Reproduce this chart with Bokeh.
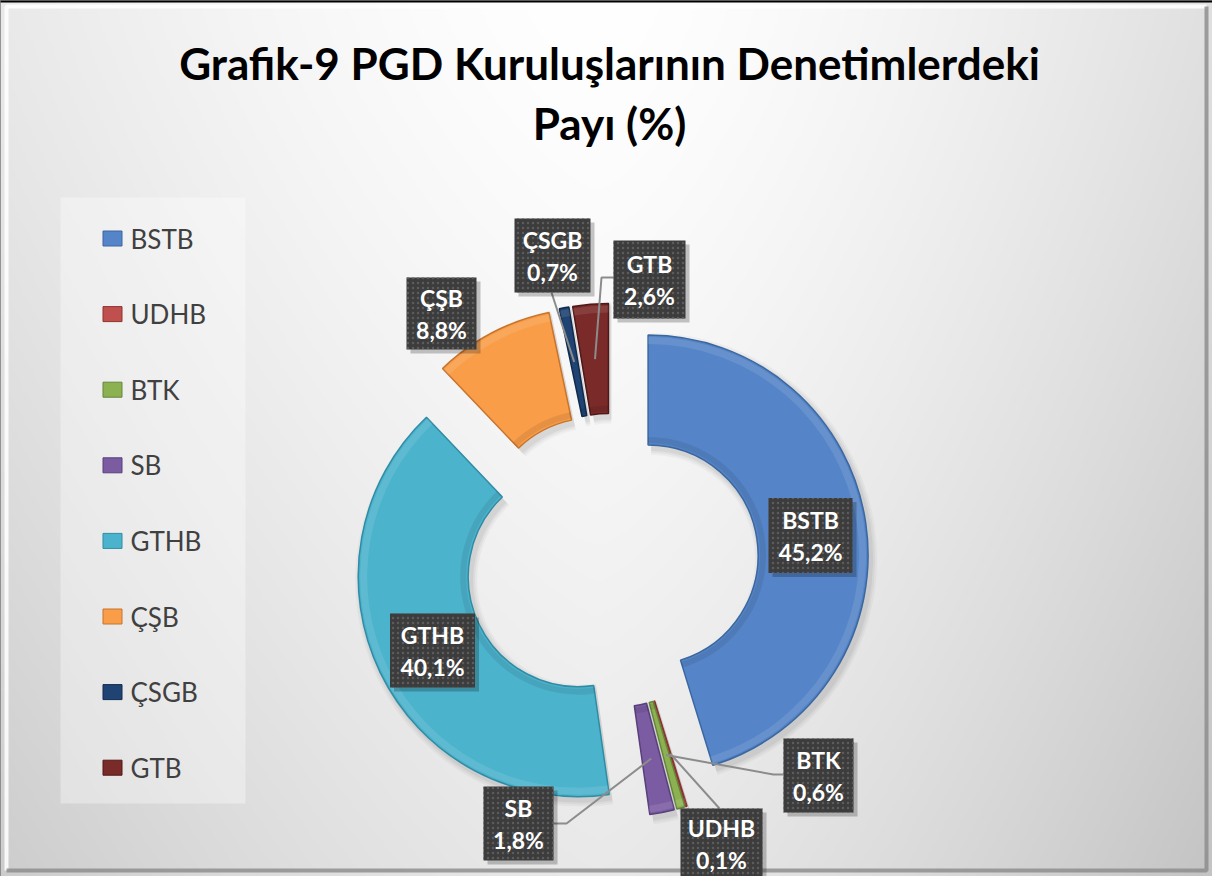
import numpy as np
from bokeh.plotting import figure
from bokeh.models import Range1d, ColumnDataSource
from bokeh.embed import file_html
from bokeh.resources import INLINE
from bokeh.core.properties import value

# ---------------- data ----------------
title_lines = ["Grafik-9 PGD Kuruluşlarının Denetimlerdeki", "Payı (%)"]
categories = ["BSTB", "UDHB", "BTK", "SB", "GTHB", "ÇŞB", "ÇSGB", "GTB"]
shares = [45.2, 0.1, 0.6, 1.8, 40.1, 8.8, 0.7, 2.6]

# ---------------- style ----------------
colors = ["#5585C8", "#C0504D", "#8CB150", "#7B5CA3", "#4CB3CC", "#F99D48", "#1F4373", "#7A2A28"]
edge_colors = ["#3B679F", "#8E3331", "#66853A", "#58407A", "#2F8CA5", "#C8742C", "#122B4D", "#4E1918"]
FONT = "Lato"

W, H = 1212, 876


def Y(yi):
    """screen y (down) -> data y (up)"""
    return H - np.asarray(yi, dtype=float)


# donut layout (screen pixels)
CX, CY = 611.0, float(Y(560))
R_OUT, R_IN, EXPLODE = 220.0, 110.0, 37.0

# label boxes: centre (x, y-down), width, height, leader points from box to elbow
label_layout = {
    "BSTB": ((810, 535), 84, 75, None),
    "UDHB": ((721, 843), 82, 70, [(719, 808)]),
    "BTK":  ((818, 775), 70, 74, [(783, 774), (773, 774)]),
    "SB":   ((518, 823), 70, 74, [(553, 823), (566, 823)]),
    "GTHB": ((432, 650), 85, 74, None),
    "ÇŞB":  ((441, 313), 70, 72, None),
    "ÇSGB": ((552, 255), 76, 74, [(551, 292)]),
    "GTB":  ((649, 279), 72, 78, [(613, 277), (601, 277)]),
}

p = figure(width=W, height=H, x_range=Range1d(0, W), y_range=Range1d(0, H),
           output_backend="svg", toolbar_location=None, min_border=0)
p.axis.visible = False
p.grid.visible = False
p.outline_line_color = "#7A7A7A"
p.outline_line_width = 3
p.background_fill_color = "#EEEEEE"
p.border_fill_color = "#EEEEEE"

# ---------------- background gradient ----------------
step = 2
nx, ny = W // step + 1, H // step + 1
xs = (np.arange(nx) + 0.5) * step
ys_data = (np.arange(ny) + 0.5) * step
gx, gy = np.meshgrid(xs, ys_data)
yi = H - gy
dxn = (gx - 600) / 600.0
side = np.where(dxn < 0, 22.0, 30.0)
v = 255 - side * np.abs(dxn) ** 1.5 - 22.0 * (yi / 870.0) ** 1.3 - 6.0 * np.abs(dxn) * (yi / 870.0)
v = np.clip(v, 0, 255).astype(np.uint8)
img = np.empty((ny, nx), dtype=np.uint32)
view = img.view(dtype=np.uint8).reshape((ny, nx, 4))
view[..., 0] = v
view[..., 1] = v
view[..., 2] = v
view[..., 3] = 255
p.image_rgba(image=[img], x=0, y=0, dw=W, dh=H)

# frame bevel
p.line(x=[6, 6, W - 6], y=[6, H - 6, H - 6], line_color="white", line_width=4, line_alpha=0.85)
p.line(x=[6, W - 6, W - 6], y=[6, 6, H - 6], line_color="#8A8A8A", line_width=4, line_alpha=0.8)

# ---------------- donut ----------------
vals = np.array(shares, dtype=float)
total = vals.sum()
cum = np.cumsum(vals)
t0 = (cum - vals) / total * 2 * np.pi
t1 = cum / total * 2 * np.pi
mid = (t0 + t1) / 2
cxs = CX + EXPLODE * np.sin(mid)
cys = CY + EXPLODE * np.cos(mid)
start = np.pi / 2 - t1
end = np.pi / 2 - t0

src = ColumnDataSource(dict(x=cxs, y=cys, start=start, end=end, color=colors, edge=edge_colors,
                            cat=categories))

# soft shadow
for k, a in [(6, 0.03), (4, 0.04), (2, 0.05)]:
    p.annular_wedge(x=cxs + 3, y=cys - 4, inner_radius=R_IN - k, outer_radius=R_OUT + k,
                    start_angle=start, end_angle=end, fill_color="black", fill_alpha=a, line_color=None)

p.annular_wedge(x="x", y="y", inner_radius=R_IN, outer_radius=R_OUT, start_angle="start", end_angle="end",
                fill_color="color", line_color="edge", line_width=1.5, source=src)
# bevel shading
p.annular_wedge(x="x", y="y", inner_radius=R_OUT - 9, outer_radius=R_OUT - 2, start_angle="start",
                end_angle="end", fill_color="white", fill_alpha=0.10, line_color=None, source=src)
p.annular_wedge(x="x", y="y", inner_radius=R_IN + 2, outer_radius=R_IN + 8, start_angle="start",
                end_angle="end", fill_color="black", fill_alpha=0.08, line_color=None, source=src)

# ---------------- leader lines ----------------
anchor_r = (R_IN + R_OUT) / 2
ax = cxs + anchor_r * np.sin(mid)
ay = cys + anchor_r * np.cos(mid)
lx, ly = [], []
for i, c in enumerate(categories):
    pts = label_layout[c][3]
    if pts:
        lx.append([pt[0] for pt in pts] + [ax[i]])
        ly.append([float(Y(pt[1])) for pt in pts] + [ay[i]])
p.multi_line(xs=lx, ys=ly, line_color="#8C8C8C", line_width=2)

# ---------------- data labels ----------------
bx = [label_layout[c][0][0] for c in categories]
by = [float(Y(label_layout[c][0][1])) for c in categories]
bw = [label_layout[c][1] for c in categories]
bh = [label_layout[c][2] for c in categories]
p.rect(x=[b + 4 for b in bx], y=[b - 4 for b in by], width=bw, height=bh, fill_color="black",
       fill_alpha=0.22, line_color=None)
p.rect(x=bx, y=by, width=bw, height=bh, fill_color="#3C3C3C", line_color=None,
       hatch_pattern="dot", hatch_color="#5C5C5C", hatch_scale=5, hatch_weight=1.2)
pct = [("%.1f" % s).replace(".", ",") + "%" for s in shares]
p.text(x=bx, y=[b + 16 for b in by], text=categories, text_font=value(FONT), text_font_style="bold",
       text_font_size="23px", text_color="white", text_align="center", text_baseline="middle")
p.text(x=bx, y=[b - 16 for b in by], text=pct, text_font=value(FONT), text_font_style="bold",
       text_font_size="23px", text_color="white", text_align="center", text_baseline="middle")

# ---------------- legend ----------------
p.quad(left=60, right=245, top=float(Y(197)), bottom=float(Y(803)), fill_color="white", fill_alpha=0.35,
       line_color=None)
leg_y = Y(238 + np.arange(len(categories)) * 75.6)
p.rect(x=[112] * len(categories), y=leg_y, width=19, height=15, fill_color=colors, line_color=edge_colors,
       line_width=1)
p.text(x=[130] * len(categories), y=leg_y, text=categories, text_font=value(FONT), text_font_size="26px",
       text_color="#404040", text_align="left", text_baseline="middle")

# ---------------- title ----------------
p.text(x=[609, 609], y=[float(Y(62)), float(Y(122))], text=title_lines, text_font=value(FONT),
       text_font_style="bold", text_font_size="44px", text_color="black", text_align="center",
       text_baseline="middle")

open("out.html", "w").write(file_html(p, INLINE))
